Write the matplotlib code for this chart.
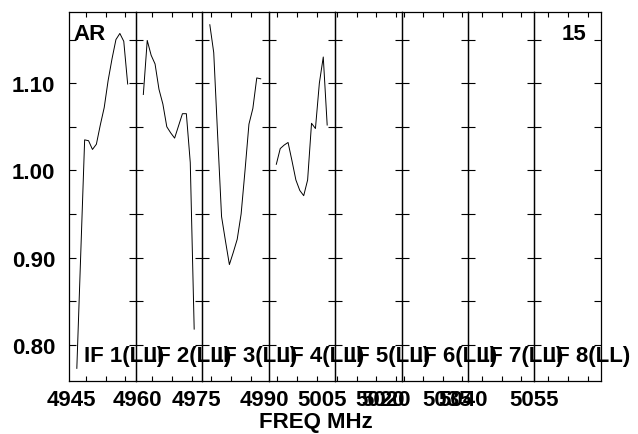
import matplotlib
matplotlib.use('Agg')
import matplotlib.pyplot as plt
from matplotlib.ticker import MultipleLocator, FuncFormatter

plt.rcParams['font.family'] = ['Liberation Sans', 'DejaVu Sans']
plt.rcParams['font.weight'] = 'bold'

# channels plotted in every IF (edge channels dropped)
channels = list(range(2, 16))

# amplitude per channel, IF 1 .. IF 4 (IF 5..8 are empty)
if1 = [0.773, 0.904, 1.035, 1.034, 1.024, 1.030, 1.052, 1.072, 1.103, 1.128, 1.150, 1.157, 1.148, 1.099]
if2 = [1.087, 1.149, 1.132, 1.122, 1.093, 1.076, 1.050, 1.043, 1.037, 1.051, 1.065, 1.065, 1.009, 0.818]
if3 = [1.167, 1.135, 1.040, 0.947, 0.919, 0.892, 0.906, 0.921, 0.950, 1.000, 1.053, 1.071, 1.106, 1.105]
if4 = [1.007, 1.025, 1.029, 1.032, 1.011, 0.989, 0.977, 0.971, 0.989, 1.054, 1.048, 1.100, 1.130, 1.052]
spectra = [if1, if2, if3, if4, [], [], [], []]

if_labels = ['IF 1(LL)', 'IF 2(LL)', 'IF 3(LL)', 'IF 4(LL)',
             'IF 5(LL)', 'IF 6(LL)', 'IF 7(LL)', 'IF 8(LL)']

# first 5-MHz tick (in channels) inside each IF panel
first_tick = [4.34, 4.34, 2.4, 2.3, 0.51, 0.54, 3.57, 3.57]

# bottom frequency labels (AIPS draws some of them on top of each other)
freq_labels = ['4945', '4960', '4975', '4990', '5005', '5020', '5020', '5035', '5040', '5055']
freq_pos = [4945.0, 4961.0, 4975.2, 4991.4, 5005.3, 5019.3, 5020.8, 5035.4, 5039.3, 5056.4]

fig = plt.figure(figsize=(6.38, 4.35), dpi=100)
left, right = 69 / 638, 601 / 638
bottom, top = 1 - 382 / 435, 1 - 13 / 435
axes = fig.subplots(1, 8, sharey=True,
                    gridspec_kw=dict(wspace=0, left=left, right=right, bottom=bottom, top=top))


def ylab(v, pos):
    k = round(v * 20)
    return f'{v:.2f}' if k % 2 == 0 else ''


for i, ax in enumerate(axes):
    ax.set_facecolor('none')
    if spectra[i]:
        ax.plot(channels, spectra[i], color='black', lw=0.7)
    ax.set_xlim(0, 17)
    ax.set_ylim(0.7585, 1.1816)
    ax.yaxis.set_major_locator(MultipleLocator(0.05))
    ax.yaxis.set_major_formatter(FuncFormatter(ylab))
    ticks = []
    t = first_tick[i]
    while t < 17:
        ticks.append(t)
        t += 5
    ax.set_xticks(ticks)
    ax.tick_params(axis='x', direction='in', top=True, bottom=True, length=3.6, width=0.8,
                   labelbottom=False)
    ax.tick_params(axis='y', direction='in', left=True, right=True, length=5, width=0.8,
                   labelsize=16, pad=10, labelleft=(i == 0))
    for s in ax.spines.values():
        s.set_linewidth(0.9)
    ax.text(0.226, 0.055, if_labels[i], transform=ax.transAxes, fontsize=16,
            fontweight='bold', va='baseline', ha='left', clip_on=False)

axes[0].text(0.07, 0.927, 'AR', transform=axes[0].transAxes, fontsize=16,
             fontweight='bold', va='baseline')
axes[-1].text(0.786, 0.927, '15', transform=axes[-1].transAxes, fontsize=16,
              fontweight='bold', va='baseline', ha='right')

# overlay axis carrying the frequency labels
lab = fig.add_axes([left, bottom, right - left, top - bottom], zorder=-1)
lab.set_facecolor('none')
for s in lab.spines.values():
    s.set_visible(False)
lab.set_yticks([])
lab.set_xlim(4944.5, 5072.5)
lab.set_xticks(freq_pos)
lab.set_xticklabels(freq_labels, fontsize=16, fontweight='bold')
lab.tick_params(axis='x', length=0, pad=6)
lab.set_xlabel('FREQ MHz', fontsize=16, fontweight='bold')
lab.xaxis.set_label_coords(0.464, -0.082)

fig.savefig('out.png', dpi=100, facecolor='white')
